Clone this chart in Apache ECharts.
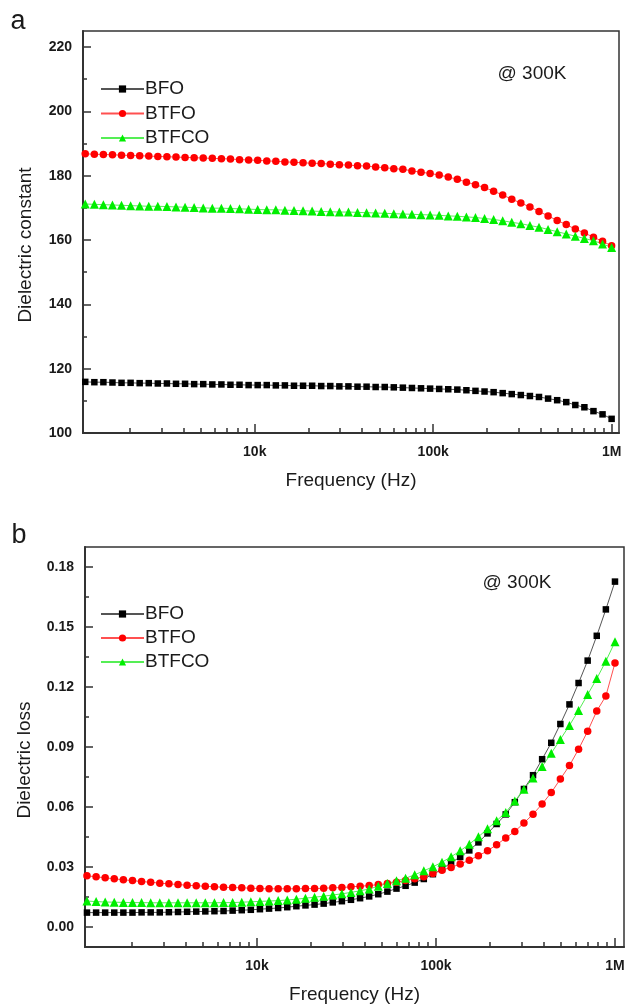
<!DOCTYPE html>
<html><head><meta charset="utf-8">
<script src="https://cdn.jsdelivr.net/npm/echarts@6/dist/echarts.min.js"></script>
<style>html,body{margin:0;padding:0;background:#fff}#c{width:626px;height:1006px}</style>
</head><body><div id="c"></div>
<script>
// Frequencies (Hz), log-spaced sweep
const freq = [1122,1262,1418,1594,1792,2015,2265,2547,2863,3219,
  3620,4069,4575,5143,5783,6502,7309,8217,9238,10385,
  11677,13128,14757,16591,18652,20971,23576,26504,29797,33497,
  37661,42335,47597,53507,60154,67627,76032,85479,96099,108038,
  121464,136550,153515,172585,194020,218129,245229,275690,309953,348455,
  391746,440555,495247,556801,625963,703719,791151,889410,1000000];

// Panel a: dielectric constant
const bfoConst = [115.9,115.8,115.8,115.7,115.6,115.6,115.5,115.5,115.4,115.4,
  115.3,115.3,115.2,115.2,115.1,115.1,115.0,115.0,114.9,114.9,
  114.9,114.8,114.8,114.7,114.7,114.7,114.6,114.6,114.5,114.5,
  114.4,114.4,114.3,114.3,114.2,114.1,114.0,113.9,113.8,113.7,
  113.6,113.5,113.3,113.1,112.9,112.7,112.4,112.1,111.8,111.5,
  111.2,110.7,110.2,109.6,108.7,108.0,106.8,105.8,104.4];
const btfoConst = [186.8,186.7,186.6,186.5,186.4,186.3,186.2,186.1,186.0,185.9,
  185.8,185.7,185.6,185.5,185.4,185.3,185.2,185.0,184.9,184.8,
  184.6,184.5,184.3,184.2,184.0,183.9,183.8,183.6,183.4,183.3,
  183.1,183.0,182.7,182.5,182.2,182.0,181.5,181.1,180.7,180.2,
  179.6,178.9,178.0,177.2,176.3,175.2,174.0,172.7,171.5,170.3,
  168.9,167.5,166.1,164.8,163.4,162.2,160.9,159.6,158.2];
const btfcoConst = [171.2,171.1,171.0,170.9,170.8,170.7,170.6,170.5,170.5,170.4,
  170.3,170.2,170.1,170.0,169.9,169.9,169.8,169.7,169.6,169.5,
  169.4,169.4,169.3,169.2,169.1,169.0,168.9,168.8,168.7,168.7,
  168.6,168.5,168.4,168.3,168.2,168.1,168.0,167.9,167.8,167.7,
  167.5,167.4,167.2,167.0,166.7,166.4,166.0,165.5,165.1,164.5,
  164.0,163.3,162.6,161.9,161.2,160.5,159.8,158.8,157.7];

// Panel b: dielectric loss
const bfoLoss = [0.0072,0.0072,0.0072,0.0072,0.0072,0.0072,0.0073,0.0073,0.0073,0.0074,
  0.0075,0.0076,0.0077,0.0078,0.0079,0.0080,0.0082,0.0084,0.0086,0.0089,
  0.0092,0.0095,0.0099,0.0104,0.0108,0.0112,0.0117,0.0123,0.0129,0.0136,
  0.0144,0.0153,0.0164,0.0177,0.0192,0.0206,0.0222,0.0240,0.0264,0.0289,
  0.0322,0.0350,0.0383,0.0423,0.0468,0.0515,0.0563,0.0624,0.0690,0.0759,
  0.0839,0.0921,0.1015,0.1113,0.1220,0.1332,0.1456,0.1588,0.1727];
const btfoLoss = [0.0256,0.0251,0.0246,0.0241,0.0236,0.0232,0.0227,0.0224,0.0219,0.0216,
  0.0212,0.0209,0.0206,0.0204,0.0201,0.0199,0.0197,0.0196,0.0194,0.0192,
  0.0191,0.0191,0.0191,0.0191,0.0192,0.0192,0.0194,0.0196,0.0197,0.0201,
  0.0204,0.0207,0.0212,0.0217,0.0224,0.0232,0.0241,0.0251,0.0267,0.0284,
  0.0298,0.0315,0.0334,0.0356,0.0381,0.0411,0.0445,0.0478,0.0520,0.0564,
  0.0615,0.0672,0.0740,0.0807,0.0889,0.0979,0.1080,0.1155,0.1320];
const btfcoLoss = [0.0130,0.0127,0.0125,0.0124,0.0123,0.0122,0.0122,0.0121,0.0121,0.0121,
  0.0121,0.0121,0.0121,0.0121,0.0121,0.0122,0.0122,0.0124,0.0126,0.0128,
  0.0130,0.0132,0.0135,0.0139,0.0144,0.0149,0.0154,0.0160,0.0166,0.0173,
  0.0181,0.0190,0.0204,0.0217,0.0231,0.0244,0.0261,0.0281,0.0301,0.0324,
  0.0351,0.0381,0.0414,0.0451,0.0491,0.0531,0.0573,0.0630,0.0689,0.0745,
  0.0802,0.0869,0.0938,0.1008,0.1083,0.1162,0.1242,0.1329,0.1426];

// Tick positions
const xMajor = [10000, 100000, 1000000];
const xMinor = [2000,3000,4000,5000,6000,7000,8000,9000,
  20000,30000,40000,50000,60000,70000,80000,90000,
  200000,300000,400000,500000,600000,700000,800000,900000];
const constMajor = [100,120,140,160,180,200,220];
const constMinor = [110,130,150,170,190,210];
const lossMajor = [0,0.03,0.06,0.09,0.12,0.15,0.18];
const lossMinor = [0.015,0.045,0.075,0.105,0.135,0.165];

const seriesNames = ['BFO','BTFO','BTFCO'];
const FONT = "'Liberation Sans', Arial, sans-serif";
const AX = '#333', TXT = '#1a1a1a';

function fmtFreq(v){
  const r = Math.round(v);
  if (r >= 1e6) return Math.round(r/1e6) + 'M';
  if (r >= 1e3) return Math.round(r/1e3) + 'k';
  return String(r);
}

function xAxes(gridIndex, min, max){
  return [{
    type:'log', logBase:10, gridIndex, min, max, position:'bottom',
    axisLine:{show:true, onZero:false, lineStyle:{color:AX, width:2}},
    axisTick:{show:true, inside:true, length:9, customValues:xMajor, lineStyle:{color:AX, width:1.5}},
    axisLabel:{show:true, customValues:xMajor, formatter:fmtFreq, margin:12,
      fontSize:14, fontWeight:'bold', color:TXT, fontFamily:FONT},
    splitLine:{show:false},
    name:'Frequency (Hz)', nameLocation:'middle', nameGap:38,
    nameTextStyle:{fontSize:19, color:TXT, fontFamily:FONT}
  },{
    type:'log', logBase:10, gridIndex, min, max, position:'bottom',
    axisLine:{show:false, onZero:false},
    axisTick:{show:true, inside:true, length:5, customValues:xMinor, lineStyle:{color:AX, width:1.5}},
    axisLabel:{show:false}, splitLine:{show:false}
  }];
}

function yAxes(gridIndex, min, max, major, minor, fmt){
  return [{
    type:'value', gridIndex, min, max, position:'left',
    axisLine:{show:true, onZero:false, lineStyle:{color:AX, width:2}},
    axisTick:{show:true, inside:true, length:8, customValues:major, lineStyle:{color:AX, width:1.5}},
    axisLabel:{show:true, customValues:major, formatter:fmt, margin:11,
      fontSize:14, fontWeight:'bold', color:TXT, fontFamily:FONT},
    splitLine:{show:false}
  },{
    type:'value', gridIndex, min, max, position:'left',
    axisLine:{show:false, onZero:false},
    axisTick:{show:true, inside:true, length:4, customValues:minor, lineStyle:{color:AX, width:1.5}},
    axisLabel:{show:false}, splitLine:{show:false}
  }];
}

function mk(name, vals, xi, yi, symbol, size, color, lineColor){
  return {
    name, type:'line', xAxisIndex:xi, yAxisIndex:yi,
    data: freq.map((f,i)=>[f, vals[i]]),
    symbol, symbolSize:size, showAllSymbol:true,
    itemStyle:{color},
    lineStyle:{color:lineColor, width:1},
    emphasis:{disabled:true},
    animation:false
  };
}

function legend(top, gap){
  return {
    orient:'vertical', left:100, top, padding:0, itemWidth:43, itemHeight:9, itemGap:gap,
    selectedMode:false, data:seriesNames,
    textStyle:{fontSize:19, lineHeight:19, color:TXT, fontFamily:FONT, padding:[0,0,0,-4]}
  };
}

const chart = echarts.init(document.getElementById('c'), null, {renderer:'canvas'});
chart.setOption({
  animation:false,
  backgroundColor:'#fff',
  grid:[
    {left:83, right:7, top:31, height:402, show:true, borderColor:AX, borderWidth:1.5, containLabel:false, outerBoundsMode:'none'},
    {left:85, right:2, top:547, height:400, show:true, borderColor:AX, borderWidth:1.5, containLabel:false, outerBoundsMode:'none'}
  ],
  xAxis: [...xAxes(0, 1090, 1100000), ...xAxes(1, 1094, 1123000)],
  yAxis: [...yAxes(0, 100, 225, constMajor, constMinor, v => String(Math.round(v))),
          ...yAxes(1, -0.01, 0.19, lossMajor, lossMinor, v => Number(v).toFixed(2))],
  legend:[legend(79.5, 5.5), legend(604.5, 5)],
  series:[
    mk('BFO', bfoConst, 0, 0, 'rect', 6.5, '#000000', '#555555'),
    mk('BTFO', btfoConst, 0, 0, 'circle', 7.5, '#ff0000', '#ff5050'),
    mk('BTFCO', btfcoConst, 0, 0, 'triangle', 9, '#00ee00', '#55ee55'),
    mk('BFO', bfoLoss, 2, 2, 'rect', 6.5, '#000000', '#555555'),
    mk('BTFO', btfoLoss, 2, 2, 'circle', 7.5, '#ff0000', '#ff5050'),
    mk('BTFCO', btfcoLoss, 2, 2, 'triangle', 9, '#00ee00', '#55ee55')
  ],
  graphic:[
    {type:'text', x:18, y:22, style:{text:'a', fontSize:27, fontFamily:FONT, fill:TXT, align:'center', verticalAlign:'middle', textAlign:'center', textVerticalAlign:'middle'}},
    {type:'text', x:19, y:536, style:{text:'b', fontSize:27, fontFamily:FONT, fill:TXT, align:'center', verticalAlign:'middle', textAlign:'center', textVerticalAlign:'middle'}},
    {type:'text', x:532, y:74, style:{text:'@ 300K', fontSize:19, fontFamily:FONT, fill:TXT, align:'center', verticalAlign:'middle', textAlign:'center', textVerticalAlign:'middle'}},
    {type:'text', x:517, y:583, style:{text:'@ 300K', fontSize:19, fontFamily:FONT, fill:TXT, align:'center', verticalAlign:'middle', textAlign:'center', textVerticalAlign:'middle'}},
    {type:'text', x:26, y:245, rotation:Math.PI/2, style:{text:'Dielectric constant', fontSize:19, fontFamily:FONT, fill:TXT, align:'center', verticalAlign:'middle', textAlign:'center', textVerticalAlign:'middle'}},
    {type:'text', x:25, y:760, rotation:Math.PI/2, style:{text:'Dielectric loss', fontSize:19, fontFamily:FONT, fill:TXT, align:'center', verticalAlign:'middle', textAlign:'center', textVerticalAlign:'middle'}}
  ]
});
</script>
</body></html>
